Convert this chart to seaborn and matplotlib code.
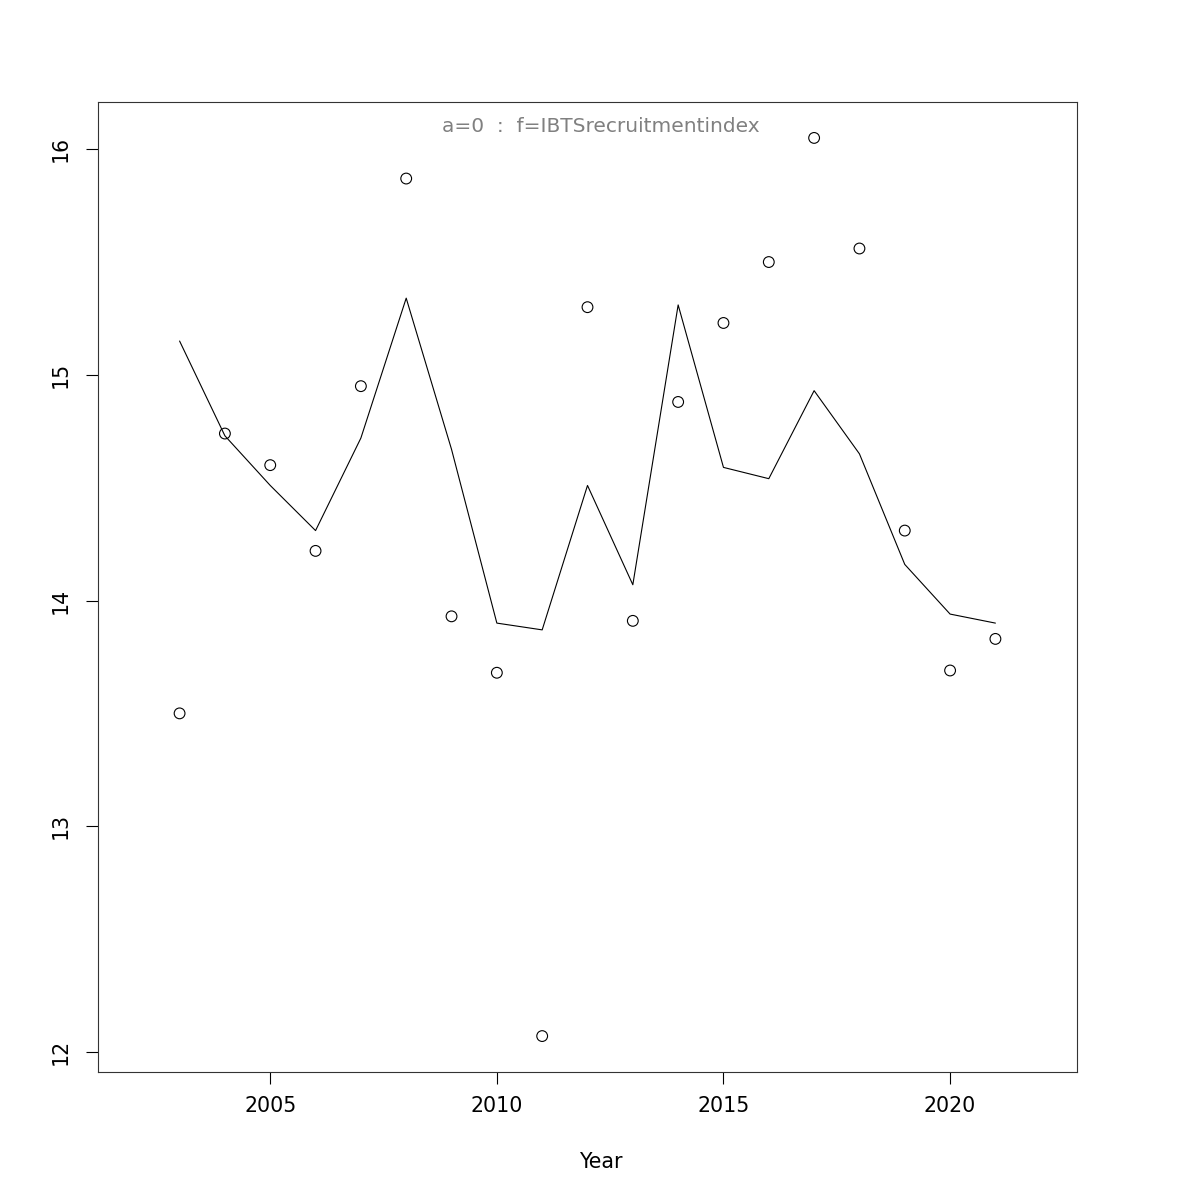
import matplotlib
matplotlib.use("Agg")
import matplotlib.pyplot as plt
import seaborn as sns
import pandas as pd

years = list(range(2003, 2022))
observed = [13.50, 14.74, 14.60, 14.22, 14.95, 15.87, 13.93, 13.68, 12.07, 15.30,
            13.91, 14.88, 15.23, 15.50, 16.05, 15.56, 14.31, 13.69, 13.83]
fitted = [15.15, 14.73, 14.51, 14.31, 14.72, 15.34, 14.67, 13.90, 13.87, 14.51,
          14.07, 15.31, 14.59, 14.54, 14.93, 14.65, 14.16, 13.94, 13.90]
xticks = [2005, 2010, 2015, 2020]
yticks = [12, 13, 14, 15, 16]
title = "a=0  :  f=IBTSrecruitmentindex"

df = pd.DataFrame({"Year": years, "obs": observed, "fit": fitted})

sns.set_style("white")
plt.rcParams['font.family'] = ['DejaVu Sans']
plt.rcParams['text.color'] = 'black'
plt.rcParams['axes.labelcolor'] = 'black'
plt.rcParams['xtick.color'] = 'black'
plt.rcParams['ytick.color'] = 'black'

fig = plt.figure(figsize=(12, 12), dpi=100)
ax = fig.add_axes([98/1200, 1 - 1072/1200, (1077 - 98)/1200, (1072 - 102)/1200])

sns.scatterplot(data=df, x="Year", y="obs", ax=ax, marker="o", s=60,
                facecolor="none", edgecolor="black", linewidth=0.8)
sns.lineplot(data=df, x="Year", y="fit", ax=ax, color="black", linewidth=0.8)

ax.set_xlim(2001.2, 2022.8)
ymin, ymax = min(observed), max(observed)
pad = 0.04 * (ymax - ymin)
ax.set_ylim(ymin - pad, ymax + pad)

ax.set_xticks(xticks)
ax.set_xticklabels([str(t) for t in xticks], fontsize=14.8)
ax.set_yticks(yticks)
ax.set_yticklabels([str(t) for t in yticks], fontsize=14.8, rotation=90, va="center")
ax.tick_params(axis="both", direction="out", length=8.5, width=0.8, color="black",
               bottom=True, left=True, pad=9)
ax.tick_params(axis="y", pad=11)

for s in ax.spines.values():
    s.set_visible(True)
    s.set_color("#333333")
    s.set_linewidth(0.8)

xc = (601 - 98) / 979
ax.set_xlabel("Year", fontsize=14.8, labelpad=26, color="black")
ax.xaxis.label.set_x(xc)
ax.set_ylabel("")
ax.text(xc, 0.9745, title, transform=ax.transAxes, ha="center", va="center",
        fontsize=14.5, color="#808080")

fig.savefig("out.png", dpi=100, facecolor="white")
